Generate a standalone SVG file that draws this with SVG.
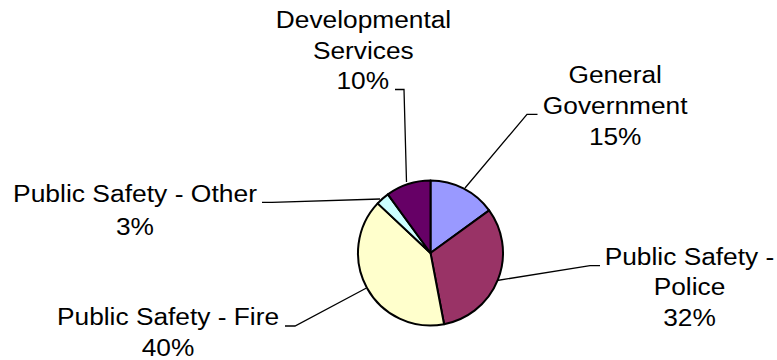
<svg xmlns="http://www.w3.org/2000/svg" width="777" height="360" viewBox="0 0 777 360">
<style>
.slice{stroke:#000;stroke-width:2;stroke-linejoin:round}
.lbl{font-family:"Liberation Sans",Arial,sans-serif;font-size:23.5px;fill:#000;text-anchor:middle}
.lead{fill:none;stroke:#000;stroke-width:1.3}
</style>
<rect width="777" height="360" fill="#fff"/>
<g id="connectors">
<polyline class="lead" points="465,188 527,114.3 537.5,114.3"/>
<polyline class="lead" points="497,280.5 590,265.7 600,265.7"/>
<polyline class="lead" points="366,288.3 295,326 285,326"/>
<polyline class="lead" points="380,199 272,202.3 262,202.3"/>
<polyline class="lead" points="406.5,182 404,89.5 395,89.5"/>
</g>
<g id="general-government">
<path class="slice" fill="#9999FF" d="M430.5,253 L430.5,180.5 A72.5,72.5 0 0 1 489.15,210.38 Z"/>
<text class="lbl" x="615.2" y="83.3" textLength="93.5" lengthAdjust="spacingAndGlyphs">General</text>
<text class="lbl" x="615.2" y="114.3" textLength="144.7" lengthAdjust="spacingAndGlyphs">Government</text>
<text class="lbl" x="615.2" y="145" textLength="52.6" lengthAdjust="spacingAndGlyphs">15%</text>
</g>
<g id="public-safety-police">
<path class="slice" fill="#993366" d="M430.5,253 L489.15,210.38 A72.5,72.5 0 0 1 444.09,324.22 Z"/>
<text class="lbl" x="689.5" y="265" textLength="169.6" lengthAdjust="spacingAndGlyphs">Public Safety -</text>
<text class="lbl" x="689.5" y="295" textLength="71.6" lengthAdjust="spacingAndGlyphs">Police</text>
<text class="lbl" x="689.5" y="326" textLength="52.6" lengthAdjust="spacingAndGlyphs">32%</text>
</g>
<g id="public-safety-fire">
<path class="slice" fill="#FFFFCC" d="M430.5,253 L444.09,324.22 A72.5,72.5 0 0 1 377.65,203.37 Z"/>
<text class="lbl" x="168" y="325" textLength="222" lengthAdjust="spacingAndGlyphs">Public Safety - Fire</text>
<text class="lbl" x="168" y="356" textLength="52.6" lengthAdjust="spacingAndGlyphs">40%</text>
</g>
<g id="public-safety-other">
<path class="slice" fill="#CCFFFF" d="M430.5,253 L377.65,203.37 A72.5,72.5 0 0 1 387.88,194.35 Z"/>
<text class="lbl" x="135" y="202.3" textLength="244" lengthAdjust="spacingAndGlyphs">Public Safety - Other</text>
<text class="lbl" x="135" y="235" textLength="38" lengthAdjust="spacingAndGlyphs">3%</text>
</g>
<g id="developmental-services">
<path class="slice" fill="#660066" d="M430.5,253 L387.88,194.35 A72.5,72.5 0 0 1 430.5,180.5 Z"/>
<text class="lbl" x="363.5" y="28.3" textLength="175.4" lengthAdjust="spacingAndGlyphs">Developmental</text>
<text class="lbl" x="363.3" y="59.3" textLength="100.8" lengthAdjust="spacingAndGlyphs">Services</text>
<text class="lbl" x="362.8" y="89.3" textLength="52.6" lengthAdjust="spacingAndGlyphs">10%</text>
</g>
</svg>
